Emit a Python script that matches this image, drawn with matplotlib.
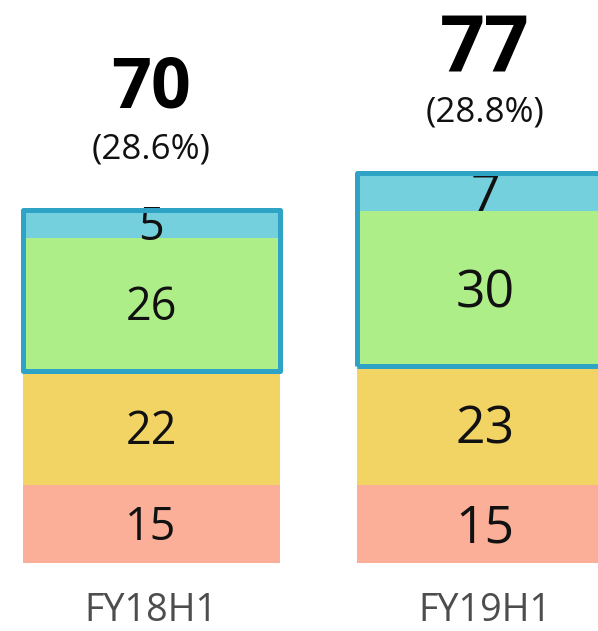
import matplotlib
matplotlib.use('Agg')
import matplotlib.pyplot as plt
from matplotlib.patches import Rectangle
import numpy as np

categories = ['FY18H1', 'FY19H1']
seg_a = [15.4, 15.45]   # bottom (salmon)
seg_b = [22.4, 23.45]   # yellow
seg_c = [26.4, 30.45]   # green
seg_d = [5.4, 7.49]     # cyan (top)
totals = [70, 77]
shares = ['(28.6%)', '(28.8%)']

colors = ['#FBAF98', '#F2D464', '#ADEE88', '#74D0DC']
outline_color = '#2EA3C5'

plt.rcParams['font.family'] = ['Open Sans', 'DejaVu Sans']

W, H = 598, 631
fig = plt.figure(figsize=(W / 100, H / 100), dpi=100)
ax = fig.add_axes([0, 0, 1, 1])
ax.axis('off')

PXX = 334.0          # pixels per category step
SY = 5.07            # pixels per value unit
base_px = 68.0       # baseline height from bottom (px)
ax.set_xlim(-151 / PXX, (W - 151) / PXX)
ax.set_ylim(-base_px / SY, (H - base_px) / SY)

x = np.arange(len(categories))
width = 257 / PXX
seg_sizes = [32.3, 37.3]
tot_sizes = [50.4, 56.5]

bottom = np.zeros(len(categories))
for vals, c in zip([seg_a, seg_b, seg_c, seg_d], colors):
    vals = np.array(vals, dtype=float)
    ax.bar(x, vals, width, bottom=bottom, color=c, edgecolor='none', zorder=2)
    for i, v in enumerate(vals):
        cy = bottom[i] + v / 2
        fs = seg_sizes[i]
        digit_h_px = fs * 1.389 * 0.714
        ax.text(x[i], cy - (digit_h_px / 2) / SY, f'{v:.0f}', ha='center', va='baseline',
                fontsize=fs, color='#111111', zorder=3)
    bottom += vals

# outline around the top two segments
for i in range(len(categories)):
    y0 = seg_a[i] + seg_b[i]
    h = seg_c[i] + seg_d[i]
    r = Rectangle((x[i] - width / 2, y0), width, h, fill=False, edgecolor=outline_color,
                  linewidth=3.6, joinstyle='round', zorder=5, clip_on=False)
    ax.add_patch(r)

# totals and shares
for i in range(len(categories)):
    top = bottom[i]
    ax.text(x[i], top + 103 / SY, f'{totals[i]}', ha='center', va='baseline',
            fontsize=tot_sizes[i], fontweight='bold', color='#000000')
    ax.text(x[i], top + 52 / SY, shares[i], ha='center', va='baseline',
            fontsize=25.2, color='#111111')
    ax.text(x[i], -58 / SY, categories[i], ha='center', va='baseline',
            fontsize=27.2, color='#4D4D4D')

fig.savefig('out.png', dpi=100)
